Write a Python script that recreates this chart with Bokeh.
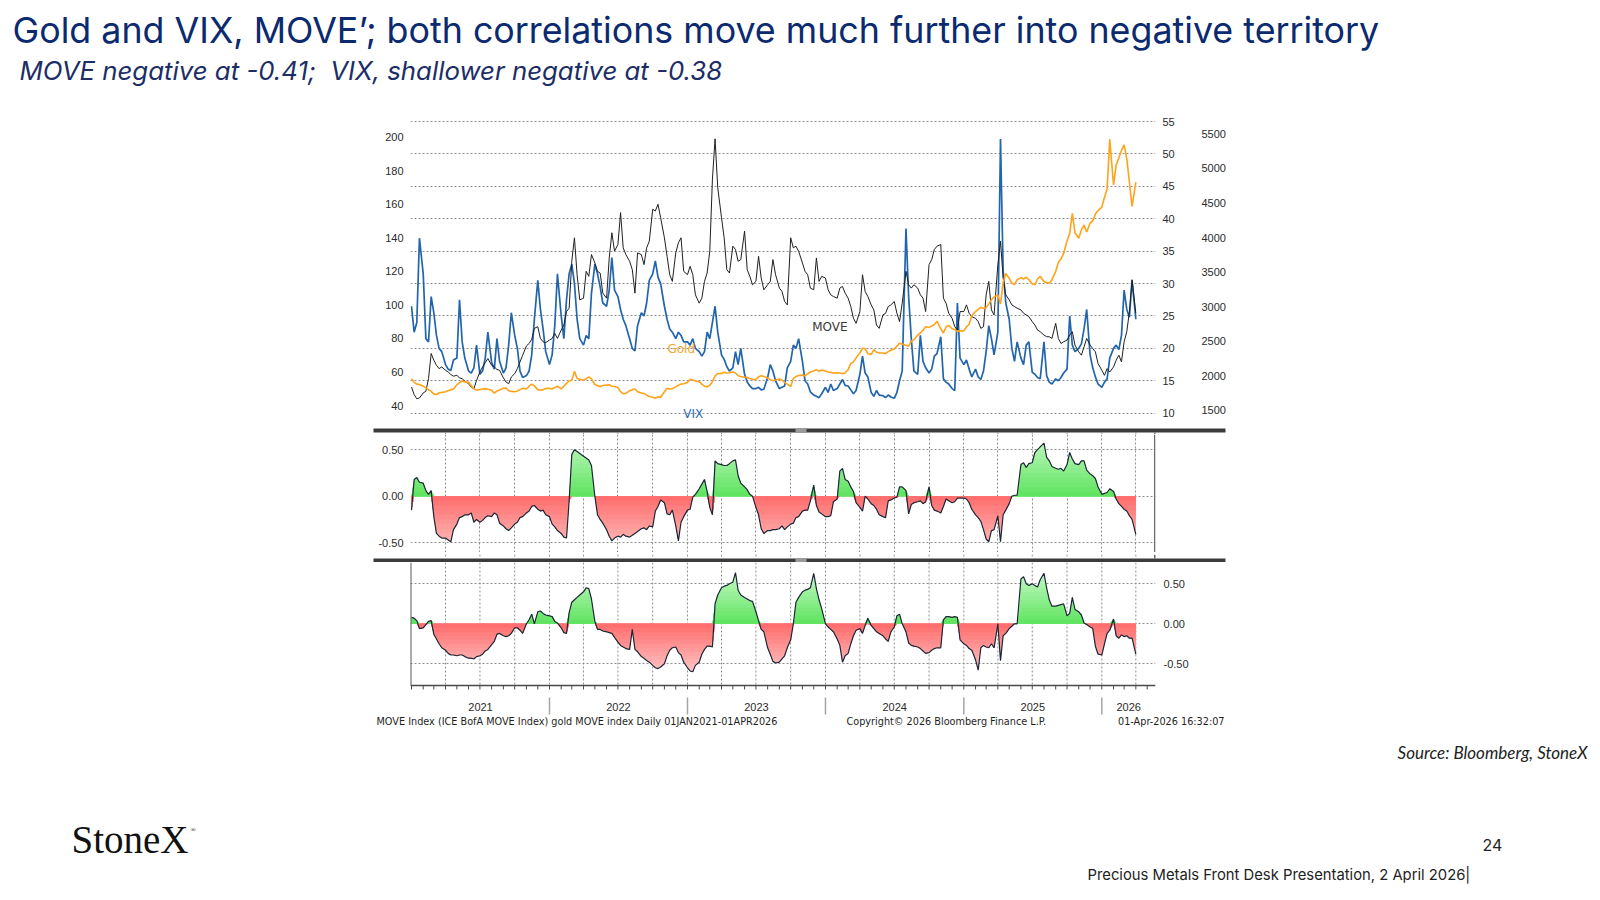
import numpy as np
from datetime import datetime
from bokeh.plotting import figure
from bokeh.models import Range1d, LinearAxis, FixedTicker, NumeralTickFormatter, Grid, Span
from bokeh.core.properties import value
from bokeh.embed import file_html
from bokeh.resources import INLINE

# ------------------------------------------------------------------ data
title_text = "Gold and VIX, MOVE\u2019; both correlations move much further into negative territory"
subtitle_text = "MOVE negative at -0.41;\u00a0 VIX, shallower negative at -0.38"
footer_left = "MOVE Index (ICE BofA MOVE Index) gold MOVE index Daily 01JAN2021-01APR2026"
footer_mid = "Copyright\u00a9 2026 Bloomberg Finance L.P."
footer_right = "01-Apr-2026 16:32:07"
source_text = "Source: Bloomberg, StoneX"
deck_text = "Precious Metals Front Desk Presentation, 2 April 2026|"
page_no = "24"

vix_ticks = [10, 15, 20, 25, 30, 35, 40, 45, 50, 55]
move_ticks = [40, 60, 80, 100, 120, 140, 160, 180, 200]
gold_ticks = [1500, 2000, 2500, 3000, 3500, 4000, 4500, 5000, 5500]
corr_ticks = [-0.5, 0.0, 0.5]
year_labels = ["2021", "2022", "2023", "2024", "2025", "2026"]

# four readings per month (1st, 8th, 15th, 22nd), Jan 2021 .. Mar 2026, then 1 Apr 2026
vix = [
    26.5, 22.5, 24.0, 37.0, 31.5, 21.5, 21.0, 28.0, 25.5, 22.0, 20.0, 19.5, 17.5, 16.8, 16.6, 18.2,
    18.5, 27.5, 21.0, 18.5, 16.5, 16.2, 17.0, 20.5, 16.0, 16.5, 18.5, 22.5, 17.8, 16.8, 21.5, 18.0,
    16.2, 17.0, 20.5, 25.5, 22.0, 20.0, 16.5, 15.5, 15.8, 16.5, 19.0, 24.5, 30.5, 26.0, 23.0, 19.5,
    17.5, 19.0, 23.5, 31.5, 25.0, 21.5, 27.5, 31.5, 33.0, 30.0, 24.5, 21.5, 20.5, 22.0, 21.5, 28.5,
    33.0, 31.5, 29.5, 27.0, 26.5, 29.0, 34.0, 29.0, 28.0, 26.0, 24.5, 23.5, 21.5, 20.0, 19.6, 23.5,
    25.5, 25.0, 27.0, 30.5, 31.5, 33.5, 31.0, 30.0, 26.5, 24.5, 23.0, 22.5, 21.5, 22.5, 22.0, 21.0,
    21.0, 20.5, 21.5, 20.0, 19.5, 18.8, 19.5, 22.5, 21.5, 24.0, 26.5, 22.5, 19.0, 18.3, 17.2, 16.5,
    17.0, 19.5, 17.5, 20.0, 16.0, 14.8, 14.2, 13.8, 13.8, 14.0, 13.6, 13.7, 15.5, 17.5, 16.5, 15.0,
    13.8, 14.0, 14.2, 17.0, 18.0, 20.5, 20.0, 21.5, 18.0, 15.0, 14.5, 13.3, 12.8, 12.6, 12.4, 13.0,
    14.0, 13.2, 14.5, 13.5, 13.8, 14.5, 15.2, 14.3, 14.2, 13.6, 13.0, 13.5, 16.0, 18.8, 16.2, 15.6,
    13.2, 12.6, 13.5, 12.8, 12.7, 12.4, 12.8, 12.5, 12.3, 13.2, 15.0, 16.5, 38.5, 28.0, 21.5, 16.5,
    16.0, 22.0, 18.0, 17.0, 16.2, 16.8, 18.8, 19.2, 21.8, 15.3, 14.8, 14.5, 13.8, 13.5, 27.0, 18.5,
    17.5, 18.2, 16.8, 15.6, 16.8, 15.6, 15.2, 16.5, 19.5, 23.5, 21.5, 19.0, 22.5, 52.3, 32.0, 27.0,
    24.5, 20.0, 18.0, 21.0, 18.5, 17.5, 20.5, 21.0, 16.3, 16.0, 15.5, 15.3, 21.0, 15.8, 14.8, 14.5,
    15.3, 15.0, 15.5, 16.2, 16.8, 25.0, 20.5, 19.5, 20.0, 20.7, 23.0, 26.0, 19.0, 17.0, 15.6, 14.5,
    14.0, 14.8, 15.3, 18.5, 20.0, 20.5, 19.8, 22.0, 29.0, 26.0, 24.8, 30.5,
    24.5,
]

move = [
    51, 46.5, 44, 44.5, 47.5, 48.5, 56, 71, 67, 64, 62, 63, 61, 60, 58.5, 57.5,
    58, 56.5, 56, 54.5, 53, 51, 50, 55, 60, 63, 65.5, 68, 64, 63, 61.5, 61,
    56.5, 54, 53, 57, 59, 62, 66, 70, 75.5, 77, 79.5, 86, 87, 80, 78, 77.5,
    79, 80, 83, 80, 85, 88, 96, 98, 126, 140, 118, 103, 104, 120, 117, 130,
    125, 120, 119, 107, 104, 128, 143, 132, 136, 155, 134, 130, 126, 121, 107, 131,
    130, 124, 134, 138, 157, 156, 160, 152, 140, 129, 118, 114, 131, 137, 140, 120,
    118, 123, 118, 106, 101, 104, 114, 119, 132, 175, 199, 170, 152, 140, 121, 119,
    135, 133, 126, 127, 144, 121, 117, 112, 114, 129, 116, 109, 112, 114, 127, 118,
    110, 108, 102, 100, 140, 134, 135, 132, 125, 120, 118, 110, 109, 128, 114, 117,
    116, 109, 106, 105, 104, 110, 111, 107, 104, 99, 92, 89, 96, 118, 108, 105,
    100, 97, 88, 86, 94, 95, 99, 100, 102, 95, 90, 101, 120, 112, 110, 112,
    110, 106, 104, 96, 124, 127, 133, 135, 136, 104, 101, 95, 92, 87, 85, 96,
    96, 100, 95, 93, 92, 90, 86, 87, 106, 114, 97, 94, 124, 138, 116, 106,
    103, 100, 99, 98, 97, 95, 94, 93, 90, 88, 85, 84, 82, 81, 81, 80,
    89, 80, 77, 78, 79, 82, 84, 76, 72, 70, 75, 80, 76, 74, 72, 65,
    61, 58, 62, 60, 63, 67, 70, 66, 78, 84, 96, 115,
    95,
]

gold = [
    1960, 1905, 1880, 1875, 1850, 1825, 1800, 1775, 1735, 1730, 1755, 1760, 1770, 1785, 1800, 1810,
    1870, 1900, 1925, 1915, 1905, 1860, 1810, 1795, 1800, 1810, 1815, 1805, 1790, 1750, 1780, 1795,
    1820, 1825, 1785, 1775, 1770, 1780, 1800, 1820, 1810, 1850, 1880, 1855, 1800, 1790, 1800, 1815,
    1820, 1810, 1830, 1850, 1810, 1850, 1890, 1925, 1935, 2065, 1960, 1950, 1940, 1955, 1985, 1955,
    1875, 1860, 1840, 1860, 1865, 1870, 1850, 1845, 1830, 1770, 1740, 1745, 1785, 1800, 1810, 1770,
    1750, 1745, 1720, 1700, 1690, 1675, 1695, 1690, 1770, 1820, 1810, 1815, 1840, 1865, 1880, 1885,
    1905, 1950, 1940, 1925, 1915, 1880, 1850, 1840, 1865, 1915, 2000, 2030, 2035, 2050, 2040, 2045,
    2055, 2040, 2000, 1990, 1980, 1975, 1960, 1950, 1945, 1985, 2000, 1990, 1970, 1945, 1930, 1940,
    1955, 1940, 1905, 1880, 1845, 1960, 1990, 2005, 2010, 2000, 2030, 2055, 2070, 2090, 2065, 2085,
    2070, 2055, 2050, 2040, 2045, 2040, 2030, 2040, 2090, 2180, 2200, 2260, 2330, 2400, 2390, 2320,
    2310, 2380, 2340, 2330, 2330, 2320, 2350, 2370, 2390, 2430, 2470, 2460, 2440, 2430, 2500, 2520,
    2590, 2620, 2660, 2710, 2700, 2720, 2740, 2790, 2680, 2620, 2710, 2730, 2680, 2670, 2640, 2650,
    2650, 2710, 2745, 2870, 2930, 2960, 2990, 2975, 2985, 3040, 3100, 3140, 3170, 3040, 3350, 3480,
    3410, 3340, 3320, 3390, 3420, 3400, 3425, 3390, 3330, 3320, 3400, 3440, 3360, 3350, 3340, 3390,
    3510, 3640, 3690, 3770, 3950, 4060, 4350, 4070, 3990, 4110, 4180, 4080, 4210, 4240, 4340, 4390,
    4440, 4580, 4700, 5420, 4760, 5050, 5150, 5260, 5340, 5140, 4800, 4450,
    4800,
]

corr_move = [
    -0.15, 0.18, 0.20, 0.15, 0.14, 0.06, 0.02, 0.06, -0.22, -0.40, -0.43, -0.45, -0.45, -0.47, -0.49, -0.36,
    -0.30, -0.23, -0.22, -0.20, -0.20, -0.18, -0.28, -0.25, -0.28, -0.26, -0.23, -0.21, -0.22, -0.18, -0.20, -0.29,
    -0.32, -0.35, -0.37, -0.34, -0.30, -0.28, -0.23, -0.22, -0.18, -0.16, -0.11, -0.10, -0.14, -0.16, -0.15, -0.20,
    -0.22, -0.30, -0.33, -0.37, -0.40, -0.44, -0.45, -0.05, 0.45, 0.50, 0.48, 0.46, 0.43, 0.41, 0.39, 0.33,
    0.0, -0.20, -0.25, -0.29, -0.36, -0.43, -0.48, -0.45, -0.43, -0.44, -0.41, -0.43, -0.44, -0.42, -0.40, -0.38,
    -0.35, -0.34, -0.36, -0.32, -0.33, -0.16, -0.11, -0.04, -0.07, -0.19, -0.20, -0.15, -0.32, -0.48, -0.28, -0.22,
    -0.15, -0.14, -0.01, 0.02, 0.08, 0.13, 0.18, 0.05, -0.12, -0.20, 0.38, 0.35, 0.34, 0.33, 0.33, 0.35,
    0.38, 0.39, 0.22, 0.14, 0.10, 0.07, 0.02, 0.0, -0.12, -0.20, -0.35, -0.40, -0.37, -0.37, -0.36, -0.36,
    -0.35, -0.32, -0.36, -0.33, -0.30, -0.29, -0.23, -0.22, -0.16, -0.15, -0.15, -0.05, 0.12, -0.10, -0.17, -0.19,
    -0.22, -0.22, -0.21, -0.06, -0.03, 0.27, 0.30, 0.18, 0.16, 0.10, 0.05, -0.07, -0.12, -0.16, 0.0, -0.03,
    -0.08, -0.10, -0.14, -0.20, -0.22, -0.23, -0.05, -0.04, -0.02, -0.01, 0.10, 0.10, 0.06, -0.19, -0.09, -0.07,
    -0.06, -0.05, -0.08, -0.06, 0.10, -0.10, -0.15, -0.16, -0.18, -0.11, -0.03, -0.05, -0.07, -0.06, -0.02, -0.02,
    -0.02, -0.03, -0.07, -0.14, -0.20, -0.23, -0.27, -0.36, -0.46, -0.49, -0.37, -0.36, -0.21, -0.49, -0.20, -0.15,
    -0.08, 0.0, 0.01, 0.01, 0.34, 0.36, 0.31, 0.35, 0.36, 0.47, 0.50, 0.53, 0.57, 0.42, 0.38, 0.32,
    0.30, 0.29, 0.30, 0.27, 0.34, 0.47, 0.40, 0.35, 0.34, 0.38, 0.38, 0.28, 0.24, 0.22, 0.19, 0.10,
    0.02, 0.03, 0.04, 0.08, 0.05, -0.03, -0.08, -0.11, -0.14, -0.16, -0.21, -0.25,
    -0.41,
]

corr_vix = [
    0.08, 0.07, 0.04, -0.06, -0.05, -0.01, 0.03, 0.04, -0.13, -0.19, -0.25, -0.30, -0.33, -0.37, -0.39, -0.39,
    -0.40, -0.39, -0.39, -0.41, -0.43, -0.43, -0.44, -0.41, -0.40, -0.38, -0.34, -0.32, -0.26, -0.22, -0.13, -0.12,
    -0.15, -0.16, -0.15, -0.12, -0.05, -0.05, -0.08, -0.12, 0.0, 0.05, 0.12, 0.0, 0.15, 0.16, 0.13, 0.11,
    0.10, 0.09, 0.03, 0.01, -0.05, -0.11, -0.12, 0.14, 0.27, 0.30, 0.33, 0.36, 0.40, 0.45, 0.44, 0.31,
    0.03, -0.07, -0.07, -0.09, -0.10, -0.11, -0.12, -0.17, -0.23, -0.27, -0.29, -0.31, -0.32, -0.07, -0.32, -0.35,
    -0.41, -0.43, -0.46, -0.48, -0.52, -0.55, -0.56, -0.54, -0.50, -0.40, -0.33, -0.30, -0.29, -0.36, -0.39, -0.48,
    -0.55, -0.59, -0.60, -0.52, -0.48, -0.38, -0.32, -0.28, -0.28, -0.29, 0.25, 0.36, 0.45, 0.47, 0.48, 0.50,
    0.52, 0.64, 0.42, 0.36, 0.33, 0.31, 0.29, 0.28, 0.15, 0.04, -0.07, -0.10, -0.30, -0.38, -0.47, -0.49,
    -0.48, -0.44, -0.40, -0.30, -0.20, 0.0, 0.27, 0.33, 0.40, 0.42, 0.43, 0.45, 0.63, 0.44, 0.30, 0.19,
    0.0, -0.04, -0.07, -0.10, -0.19, -0.27, -0.48, -0.40, -0.37, -0.25, -0.15, -0.08, -0.06, -0.12, -0.02, 0.07,
    -0.02, -0.06, -0.10, -0.12, -0.15, -0.19, -0.22, -0.10, -0.04, 0.10, 0.12, 0.0, -0.10, -0.24, -0.27, -0.28,
    -0.29, -0.31, -0.34, -0.37, -0.36, -0.33, -0.31, -0.30, -0.30, 0.05, 0.09, 0.09, 0.08, 0.09, 0.08, -0.20,
    -0.25, -0.27, -0.31, -0.33, -0.45, -0.58, -0.30, -0.27, -0.29, -0.30, -0.25, -0.30, 0.0, -0.46, -0.15, -0.12,
    -0.06, -0.03, 0.0, 0.0, 0.56, 0.59, 0.50, 0.48, 0.50, 0.48, 0.46, 0.55, 0.63, 0.45, 0.30, 0.22,
    0.22, 0.23, 0.24, 0.25, 0.10, 0.13, 0.33, 0.18, 0.15, 0.11, 0.01, -0.01, -0.04, -0.06, -0.28, -0.38,
    -0.39, -0.25, -0.12, -0.08, 0.06, -0.15, -0.18, -0.14, -0.16, -0.15, -0.18, -0.18,
    -0.38,
]

# ------------------------------------------------------------------ dates
def sample_dates():
    out = []
    for yr in range(2021, 2027):
        for mo in range(1, 13):
            if yr == 2026 and mo > 3:
                break
            for d in (1, 8, 15, 22):
                out.append(datetime(yr, mo, d))
    out.append(datetime(2026, 4, 1))
    return out

dates_list = sample_dates()
for nm, arr in (("vix", vix), ("move", move), ("gold", gold), ("corr_move", corr_move), ("corr_vix", corr_vix)):
    if len(arr) != len(dates_list):
        raise ValueError("%s has %d values, expected %d" % (nm, len(arr), len(dates_list)))
dates = np.array(dates_list, dtype="datetime64[ms]")

EPOCH = datetime(1970, 1, 1)
def ms(d):
    return (d - EPOCH).total_seconds() * 1000.0

START = datetime(2020, 12, 29, 8)
END = datetime(2026, 5, 23)

W = 1592
LEFT = 410
FRAME_R = 1155
RIGHT = W - FRAME_R
UI_FONT = "Liberation Sans"
TICK_COLOR = "#2b2b2b"
GRID_COLOR = "#8e8e8e"
GRID_DASH = "2 2"

def date_px(d):
    # page x of a date on the shared time scale (for the thin strips between panels)
    return LEFT + (ms(d) - ms(START)) / (ms(END) - ms(START)) * (FRAME_R - LEFT)

def hide_grids(p, dims=(0, 1)):
    for g in p.grid:
        if g.dimension in dims:
            g.visible = False

def new_fig(h, y_range, **kw):
    p = figure(width=W, height=h, x_range=Range1d(ms(START), ms(END)), y_range=y_range,
               output_backend="svg", toolbar_location=None, title=None,
               min_border_left=LEFT, min_border_right=RIGHT, min_border_top=0, min_border_bottom=0,
               **kw)
    p.outline_line_color = None
    p.background_fill_color = "white"
    p.border_fill_color = "white"
    hide_grids(p, (0,))
    return p

def style_axis(ax, standoff, size="11px"):
    ax.axis_line_color = None
    ax.major_tick_line_color = None
    ax.minor_tick_line_color = None
    ax.major_tick_out = 0
    ax.major_tick_in = 0
    ax.minor_tick_out = 0
    ax.minor_tick_in = 0
    ax.major_label_text_font = UI_FONT
    ax.major_label_text_font_size = size
    ax.major_label_text_color = TICK_COLOR
    ax.major_label_standoff = standoff

def mix(c1, c2, t):
    a = [int(c1[i:i + 2], 16) for i in (1, 3, 5)]
    b = [int(c2[i:i + 2], 16) for i in (1, 3, 5)]
    return "#%02x%02x%02x" % tuple(int(round(a[i] + (b[i] - a[i]) * t)) for i in range(3))

G_NEAR, G_FAR = "#62e462", "#d2fcd2"
R_NEAR, R_FAR = "#ff6f6f", "#ffd6d6"

def corr_panel(p, v):
    v = np.asarray(v, dtype=float)
    levels = np.arange(0.05, 0.751, 0.05)
    n = len(levels)
    for k in range(n - 1, -1, -1):
        b = levels[k]
        t = k / (n - 1)
        p.varea(x=dates, y1=0, y2=np.clip(v, 0, b), fill_color=mix(G_NEAR, G_FAR, t), fill_alpha=1.0)
        p.varea(x=dates, y1=0, y2=np.clip(v, -b, 0), fill_color=mix(R_NEAR, R_FAR, t), fill_alpha=1.0)
    p.line(x=dates, y=v, line_color="#1b2738", line_width=1.2)

quarter_marks = []
for yr in range(2021, 2027):
    for mo in (1, 4, 7, 10):
        d = datetime(yr, mo, 1)
        if datetime(2021, 1, 2) < d <= datetime(2026, 4, 2):
            quarter_marks.append(d)
month_marks = []
for yr in range(2021, 2027):
    for mo in range(1, 13):
        d = datetime(yr, mo, 1)
        if d <= datetime(2026, 5, 2):
            month_marks.append(d)
year_starts = [datetime(y, 1, 1) for y in range(2022, 2027)]
MID_EDGE = datetime(2026, 5, 21)
BOT_EDGE = datetime(2020, 12, 30)

def blank_fig(h):
    # page-pixel coordinates: x to the right, y downwards from the figure's top edge
    p = figure(width=W, height=h, x_range=Range1d(0, W), y_range=Range1d(h, 0),
               output_backend="svg", toolbar_location=None, title=None,
               x_axis_location=None, y_axis_location=None, min_border=0)
    p.outline_line_color = None
    p.background_fill_color = "white"
    p.border_fill_color = "white"
    hide_grids(p)
    return p

def put_text(p, x, y, text, font, size, color, style="normal", align="left", baseline="middle"):
    p.text(x=[x], y=[y], text=[text], text_font=value(font), text_font_size=size,
           text_font_style=style, text_color=color, text_align=align, text_baseline=baseline)

# ------------------------------------------------------------------ header
header = blank_fig(108)
put_text(header, 12, 29, title_text, "Inter", "35.8px", "#0b2a6f")
put_text(header, 19, 69.5, subtitle_text, "Inter", "25.8px", "#1d2d66", style="italic")

# ------------------------------------------------------------------ top panel (page y 108-424)
top = new_fig(316, Range1d(8.257, 56.39), x_axis_location=None, y_axis_location="right")
top.min_border_top = 4
top.extra_y_ranges = {"move": Range1d(28.68, 214.7), "gold": Range1d(1296, 5808)}
vax = top.yaxis[0]
vax.ticker = FixedTicker(ticks=vix_ticks)
style_axis(vax, 7)
for g in top.ygrid:
    g.ticker = FixedTicker(ticks=vix_ticks)
top.ygrid.grid_line_color = GRID_COLOR
top.ygrid.grid_line_dash = GRID_DASH
max_ax = LinearAxis(y_range_name="move", ticker=FixedTicker(ticks=move_ticks))
style_axis(max_ax, 7)
top.add_layout(max_ax, "left")
gax = LinearAxis(y_range_name="gold", ticker=FixedTicker(ticks=gold_ticks))
style_axis(gax, 24)
top.add_layout(gax, "right")

top.line(x=dates, y=vix, line_color="#2265ad", line_width=1.7)
top.line(x=dates, y=move, y_range_name="move", line_color="#202020", line_width=1.0)
top.line(x=dates, y=gold, y_range_name="gold", line_color="#ffa31a", line_width=1.6)

lbl_font = value("DejaVu Sans")
top.text(x=[ms(datetime(2023, 11, 27))], y=[23.27], text=["MOVE"], text_font=lbl_font,
         text_font_size="12px", text_color="#3a3a3a", text_baseline="middle")
top.text(x=[ms(datetime(2022, 11, 9))], y=[19.93], text=["Gold"], text_font=lbl_font,
         text_font_size="12px", text_color="#f5a42a", text_baseline="middle")
top.text(x=[ms(datetime(2022, 12, 21))], y=[9.9], text=["VIX"], text_font=lbl_font,
         text_font_size="12px", text_color="#2e6db3", text_baseline="middle")

# ------------------------------------------------------------------ thick separator strips
def strip(h, band_y, stubs):
    s = blank_fig(h)
    s.quad(left=[373], right=[1225], top=[band_y], bottom=[band_y + 4],
           fill_color="#3b3b3b", line_color=None)
    s.quad(left=[795], right=[806], top=[band_y], bottom=[band_y + 4],
           fill_color="#9a9a9a", line_color=None)
    for xs, y0, y1, color, dash, lw in stubs:
        s.segment(x0=xs, y0=[y0] * len(xs), x1=xs, y1=[y1] * len(xs),
                  line_color=color, line_dash=dash, line_width=lw)
    return s

qpx = [date_px(d) for d in quarter_marks]
# strip 1: page y 424-434, band 426-430
sep1 = strip(10, 2, [(qpx, 6, 10, GRID_COLOR, GRID_DASH, 1),
                     ([date_px(MID_EDGE)], 6, 10, "#6a6a6a", "solid", 1.5)])
# strip 2: page y 552-562, band 556-560
sep2 = strip(10, 4, [(qpx, 0, 4, GRID_COLOR, GRID_DASH, 1),
                     ([date_px(MID_EDGE)], 0, 4, "#6a6a6a", "solid", 1.5),
                     (qpx, 8, 10, GRID_COLOR, "solid", 1),
                     ([date_px(BOT_EDGE)], 8, 10, "#5a5a5a", "solid", 1.5)])

# ------------------------------------------------------------------ middle panel (page y 434-552)
mid = new_fig(118, Range1d(-0.6054, 0.6634), x_axis_location=None, y_axis_location="left")
mid.yaxis[0].ticker = FixedTicker(ticks=corr_ticks)
mid.yaxis[0].formatter = NumeralTickFormatter(format="0.00")
style_axis(mid.yaxis[0], 7)
for g in mid.ygrid:
    g.ticker = FixedTicker(ticks=corr_ticks)
mid.ygrid.grid_line_color = GRID_COLOR
mid.ygrid.grid_line_dash = GRID_DASH
mid.add_layout(Grid(dimension=0, ticker=FixedTicker(ticks=[ms(d) for d in quarter_marks]),
                    grid_line_color=GRID_COLOR, grid_line_dash=GRID_DASH))
corr_panel(mid, corr_move)
mid.add_layout(Span(location=ms(MID_EDGE), dimension="height", line_color="#6a6a6a", line_width=1.5))

# ------------------------------------------------------------------ bottom panel (page y 562-716)
Y_AX = -0.771
Y_TOP = 0.76625
bot = new_fig(154, Range1d(-1.159, Y_TOP), x_axis_location=None, y_axis_location="right")
bot.yaxis[0].ticker = FixedTicker(ticks=corr_ticks)
bot.yaxis[0].formatter = NumeralTickFormatter(format="0.00")
style_axis(bot.yaxis[0], 8)
for g in bot.ygrid:
    g.ticker = FixedTicker(ticks=corr_ticks)
bot.ygrid.grid_line_color = GRID_COLOR
bot.ygrid.grid_line_dash = GRID_DASH
qx = np.array(quarter_marks, dtype="datetime64[ms]")
bot.segment(x0=qx, y0=[Y_TOP] * len(qx), x1=qx, y1=[Y_AX] * len(qx),
            line_color=GRID_COLOR, line_dash=GRID_DASH, line_width=1)
corr_panel(bot, corr_vix)
bot.segment(x0=[ms(START)], y0=[Y_AX], x1=[ms(END)], y1=[Y_AX], line_color="#4a4a4a", line_width=1.5)
bot.segment(x0=[ms(BOT_EDGE)], y0=[Y_TOP], x1=[ms(BOT_EDGE)], y1=[Y_AX],
            line_color="#5a5a5a", line_width=1.5)
mx = np.array(month_marks, dtype="datetime64[ms]")
bot.segment(x0=mx, y0=[Y_AX] * len(mx), x1=mx, y1=[Y_AX - 0.05] * len(mx),
            line_color="#4a4a4a", line_width=1)
yx = np.array(year_starts, dtype="datetime64[ms]")
bot.segment(x0=yx, y0=[-0.921] * len(yx), x1=yx, y1=[-1.134] * len(yx),
            line_color="#a5a5a5", line_width=1.5)
bounds = [datetime(2021, 1, 1)] + year_starts + [END]
mids = [ms(bounds[i]) + (ms(bounds[i + 1]) - ms(bounds[i])) / 2 for i in range(len(year_labels))]
bot.text(x=mids, y=[-1.0425] * len(mids), text=year_labels, text_font=value(UI_FONT),
         text_font_size="11px", text_color=TICK_COLOR, text_align="center", text_baseline="middle")

# ------------------------------------------------------------------ footer (page y 716-892)
footer = blank_fig(176)
put_text(footer, 376, 4.5, footer_left, "DejaVu Sans", "9.7px", "#1e1e1e")
put_text(footer, 846, 4.5, footer_mid, "DejaVu Sans", "9.7px", "#1e1e1e")
put_text(footer, 1224, 4.5, footer_right, "DejaVu Sans", "9.7px", "#1e1e1e", align="right")
put_text(footer, 1587, 36, source_text, "Lato", "17px", "#222222", style="italic", align="right")
put_text(footer, 71, 123, "StoneX", "Liberation Serif", "39px", "#111111")
put_text(footer, 190, 113, "\u00ae", "Liberation Serif", "7px", "#111111")
put_text(footer, 1482, 128, page_no, "Inter", "16px", "#222222")
put_text(footer, 1087, 158, deck_text, "Inter", "14.8px", "#222222")

roots = [header, top, sep1, mid, sep2, bot, footer]
open("out.html", "w").write(file_html(roots, INLINE, title="Gold and VIX, MOVE"))
